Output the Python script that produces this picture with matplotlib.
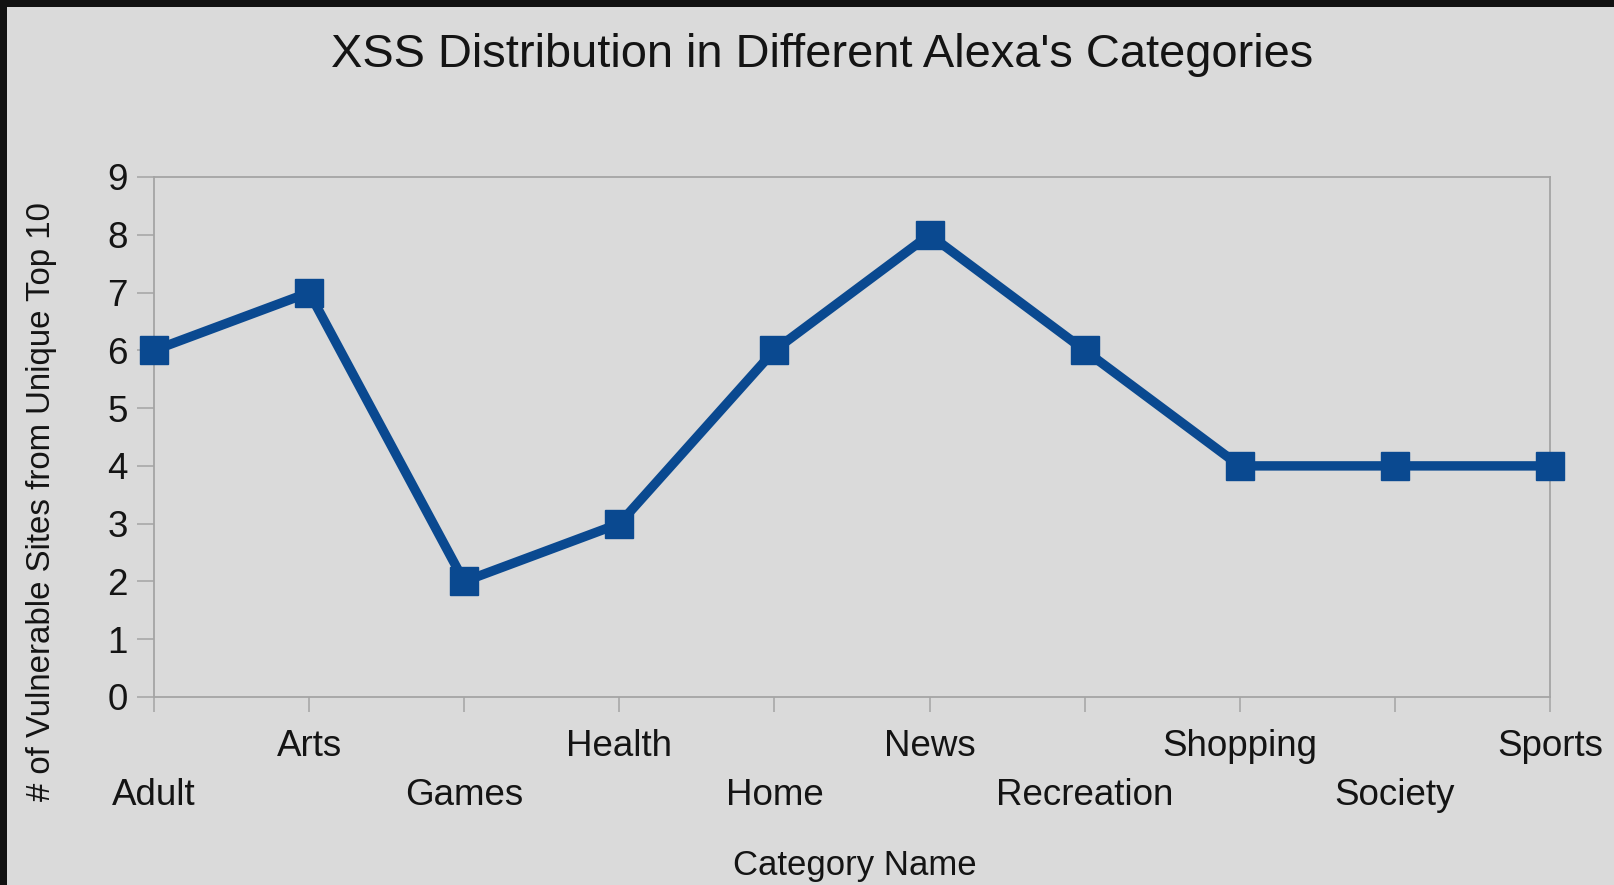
import matplotlib
matplotlib.use("Agg")
import matplotlib.pyplot as plt
from matplotlib.patches import Rectangle

categories = ["Adult", "Arts", "Games", "Health", "Home", "News",
              "Recreation", "Shopping", "Society", "Sports"]
values = [6, 7, 2, 3, 6, 8, 6, 4, 4, 4]
yticks = [0, 1, 2, 3, 4, 5, 6, 7, 8, 9]

plt.rcParams['font.family'] = ['Liberation Sans', 'DejaVu Sans']

W, H, DPI = 1615, 885, 100
bg = "#dadada"
txt = "#141414"
axc = "#a4a4a4"
line_c = "#0a4990"

fig = plt.figure(figsize=(W / DPI, H / DPI), dpi=DPI, facecolor=bg)
ax = fig.add_axes([154 / W, 1 - 697 / H, (1550 - 154) / W, (697 - 177) / H])
ax.set_facecolor(bg)

x = list(range(len(categories)))
ax.plot(x, values, color=line_c, lw=6.8, marker="s", markersize=19.5,
        markerfacecolor=line_c, markeredgecolor=line_c, clip_on=False,
        solid_joinstyle="miter", zorder=5)

ax.set_xlim(0, len(categories) - 1)
ax.set_ylim(0, 9)
ax.set_yticks(yticks)
ax.set_yticklabels([str(v) for v in yticks], fontsize=26.5, color=txt)
ax.set_xticks(x)
ax.set_xticklabels(categories, fontsize=26.5, color=txt)

for s in ax.spines.values():
    s.set_color(axc)
    s.set_linewidth(1.3)

ax.tick_params(axis="y", length=12, width=1.1, color=axc, pad=7)
ax.tick_params(axis="x", length=11, width=1.1, color=axc)
for i, t in enumerate(ax.xaxis.get_major_ticks()):
    t.set_pad(12 if i % 2 == 1 else 47)

fig.text(822 / W, 1 - 55 / H, "XSS Distribution in Different Alexa's Categories",
         ha="center", va="center", fontsize=33.8, color=txt)
fig.text(42 / W, 1 - 502 / H, "# of Vulnerable Sites from Unique Top 10",
         ha="center", va="center", rotation=90, fontsize=23.8, color=txt)
fig.text(855 / W, 1 - 865 / H, "Category Name",
         ha="center", va="center", fontsize=25, color=txt)

# dark screenshot border (top and left)
fig.patches.append(Rectangle((0, 1 - 7 / H), 1, 7 / H, transform=fig.transFigure,
                             facecolor="#111111", edgecolor="none", zorder=10))
fig.patches.append(Rectangle((0, 0), 7 / W, 1, transform=fig.transFigure,
                             facecolor="#111111", edgecolor="none", zorder=10))

fig.savefig("out.png", dpi=DPI, facecolor=bg)
